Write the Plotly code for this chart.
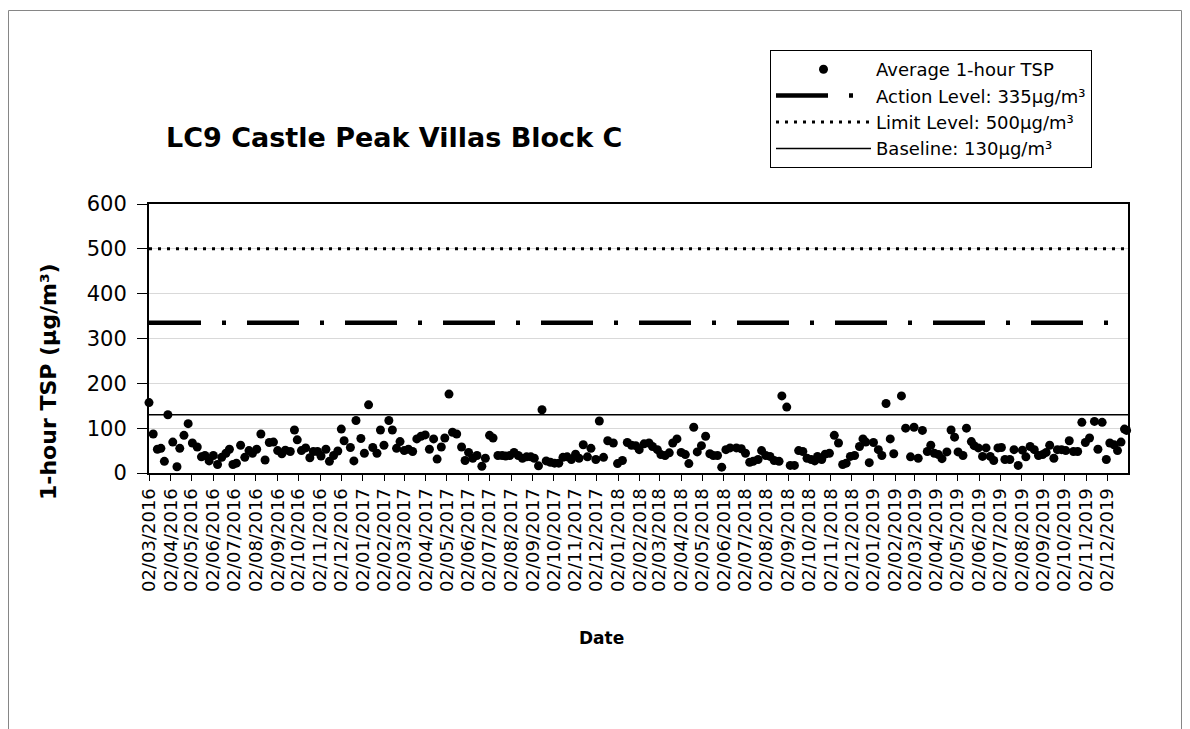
import plotly.graph_objects as go

# ---------------- data ----------------
sample_dates = [
    "2016-03-02", "2016-03-08", "2016-03-14", "2016-03-19", "2016-03-24", "2016-03-29",
    "2016-04-05", "2016-04-11", "2016-04-15", "2016-04-21", "2016-04-27",
    "2016-05-03", "2016-05-10", "2016-05-16", "2016-05-21", "2016-05-27",
    "2016-06-02", "2016-06-08", "2016-06-14", "2016-06-20", "2016-06-25", "2016-06-30",
    "2016-07-05", "2016-07-11", "2016-07-17", "2016-07-23", "2016-07-28",
    "2016-08-03", "2016-08-09", "2016-08-15", "2016-08-21", "2016-08-27",
    "2016-09-02", "2016-09-08", "2016-09-13", "2016-09-20", "2016-09-26", "2016-09-30",
    "2016-10-06", "2016-10-12", "2016-10-18", "2016-10-23", "2016-10-29",
    "2016-11-03", "2016-11-10", "2016-11-15", "2016-11-21", "2016-11-27",
    "2016-12-02", "2016-12-06", "2016-12-15", "2016-12-20", "2016-12-23", "2016-12-30",
    "2017-01-04", "2017-01-10", "2017-01-16", "2017-01-22", "2017-01-27",
    "2017-02-01", "2017-02-08", "2017-02-13", "2017-02-19", "2017-02-24",
    "2017-03-02", "2017-03-08", "2017-03-14", "2017-03-20", "2017-03-26",
    "2017-04-01", "2017-04-07", "2017-04-13", "2017-04-18", "2017-04-24", "2017-04-29",
    "2017-05-05", "2017-05-10", "2017-05-16", "2017-05-23", "2017-05-28",
    "2017-06-02", "2017-06-08", "2017-06-14", "2017-06-21", "2017-06-26",
    "2017-07-02", "2017-07-07", "2017-07-14", "2017-07-20", "2017-07-25", "2017-07-31",
    "2017-08-06", "2017-08-12", "2017-08-18", "2017-08-24", "2017-08-30",
    "2017-09-04", "2017-09-10", "2017-09-15", "2017-09-21", "2017-09-27",
    "2017-10-03", "2017-10-09", "2017-10-15", "2017-10-21", "2017-10-27",
    "2017-11-02", "2017-11-07", "2017-11-13", "2017-11-19", "2017-11-24",
    "2017-12-01", "2017-12-06", "2017-12-12", "2017-12-18", "2017-12-26",
    "2018-01-01", "2018-01-08", "2018-01-15", "2018-01-21", "2018-01-27",
    "2018-02-01", "2018-02-08", "2018-02-15", "2018-02-20", "2018-02-27",
    "2018-03-04", "2018-03-10", "2018-03-16", "2018-03-21", "2018-03-27",
    "2018-04-02", "2018-04-08", "2018-04-13", "2018-04-20", "2018-04-25",
    "2018-05-01", "2018-05-07", "2018-05-13", "2018-05-18", "2018-05-24", "2018-05-30",
    "2018-06-05", "2018-06-11", "2018-06-20", "2018-06-27",
    "2018-07-03", "2018-07-09", "2018-07-14", "2018-07-21", "2018-07-26",
    "2018-08-01", "2018-08-07", "2018-08-13", "2018-08-20", "2018-08-24", "2018-08-31",
    "2018-09-05", "2018-09-11", "2018-09-17", "2018-09-23", "2018-09-29",
    "2018-10-05", "2018-10-10", "2018-10-14", "2018-10-20", "2018-10-25", "2018-10-31",
    "2018-11-07", "2018-11-13", "2018-11-19", "2018-11-24", "2018-11-30",
    "2018-12-06", "2018-12-13", "2018-12-18", "2018-12-22", "2018-12-27",
    "2019-01-02", "2019-01-09", "2019-01-14", "2019-01-20", "2019-01-26", "2019-01-31",
    "2019-02-11", "2019-02-17", "2019-02-24",
    "2019-03-01", "2019-03-07", "2019-03-13", "2019-03-20", "2019-03-25", "2019-03-30",
    "2019-04-05", "2019-04-10", "2019-04-17", "2019-04-23", "2019-04-28",
    "2019-05-03", "2019-05-10", "2019-05-15", "2019-05-22", "2019-05-26",
    "2019-06-01", "2019-06-07", "2019-06-12", "2019-06-18", "2019-06-23", "2019-06-29",
    "2019-07-04", "2019-07-09", "2019-07-16", "2019-07-22", "2019-07-28",
    "2019-08-03", "2019-08-08", "2019-08-14", "2019-08-20", "2019-08-26",
    "2019-09-01", "2019-09-06", "2019-09-11", "2019-09-17", "2019-09-22", "2019-09-28",
    "2019-10-04", "2019-10-09", "2019-10-15", "2019-10-21", "2019-10-27",
    "2019-11-01", "2019-11-07", "2019-11-14", "2019-11-19", "2019-11-25",
    "2019-12-01", "2019-12-06", "2019-12-12", "2019-12-17", "2019-12-22", "2019-12-27",
    "2019-12-30",
]

tsp_values = [
    157, 87, 53, 55, 26, 130,
    69, 14, 55, 84, 110,
    67, 58, 36, 39, 27,
    39, 19, 35, 44, 53, 19,
    22, 62, 35, 50, 44,
    53, 87, 29, 68, 69,
    50, 43, 51, 48, 96, 74,
    50, 56, 34, 48, 48,
    38, 53, 26, 39, 49,
    98, 72, 57, 27, 117, 77,
    44, 152, 57, 44, 96,
    62, 117, 96, 55, 70,
    50, 53, 48, 76, 82,
    85, 53, 76, 31, 58, 78,
    176, 91, 87, 58, 28,
    46, 33, 39, 15, 33,
    84, 78, 39, 39, 38, 39,
    46, 39, 33, 36, 36,
    33, 16, 141, 27, 24,
    22, 22, 35, 36, 30,
    42, 33, 63, 36, 55,
    30, 116, 35, 72, 67,
    21, 28, 68, 62, 61,
    52, 65, 67, 59, 52,
    41, 39, 45, 67, 76,
    46, 41, 21, 102, 47,
    61, 82, 43, 39, 39, 13,
    52, 56, 56, 54,
    44, 24, 26, 30, 50,
    39, 37, 28, 26, 172, 147,
    17, 17, 50, 48, 33,
    30, 27, 37, 30, 42, 44,
    84, 67, 19, 22, 37,
    39, 59, 76, 69, 23,
    68, 52, 39, 155, 76, 43,
    172, 100, 36,
    102, 33, 95, 48, 62, 44,
    41, 32, 47, 96, 80,
    47, 39, 100, 70, 61,
    56, 37, 56, 37, 28, 56,
    57, 30, 30, 52, 17,
    51, 36, 59, 52, 39,
    41, 46, 62, 33, 52, 52,
    50, 72, 48, 48, 113,
    68, 78, 115, 53, 113,
    30, 67, 63, 50, 69, 98,
    95,
]

tick_dates = [
    "2016-03-02", "2016-04-02", "2016-05-02", "2016-06-02", "2016-07-02", "2016-08-02",
    "2016-09-02", "2016-10-02", "2016-11-02", "2016-12-02", "2017-01-02", "2017-02-02",
    "2017-03-02", "2017-04-02", "2017-05-02", "2017-06-02", "2017-07-02", "2017-08-02",
    "2017-09-02", "2017-10-02", "2017-11-02", "2017-12-02", "2018-01-02", "2018-02-02",
    "2018-03-02", "2018-04-02", "2018-05-02", "2018-06-02", "2018-07-02", "2018-08-02",
    "2018-09-02", "2018-10-02", "2018-11-02", "2018-12-02", "2019-01-02", "2019-02-02",
    "2019-03-02", "2019-04-02", "2019-05-02", "2019-06-02", "2019-07-02", "2019-08-02",
    "2019-09-02", "2019-10-02", "2019-11-02", "2019-12-02",
]
tick_labels = [d[8:10] + "/" + d[5:7] + "/" + d[0:4] for d in tick_dates]

x_range = ["2016-03-02", "2020-01-01"]
action_level = 335
limit_level = 500
baseline = 130
y_ticks = [0, 100, 200, 300, 400, 500, 600]

FONT = "DejaVu Sans, Liberation Sans, Arial, sans-serif"

# ---------------- figure ----------------
fig = go.Figure()

fig.add_trace(go.Scatter(
    x=sample_dates, y=tsp_values, mode="markers",
    name="Average 1-hour TSP",
    marker=dict(color="black", size=9, symbol="circle"),
    cliponaxis=False,
))
fig.add_trace(go.Scatter(
    x=x_range, y=[action_level, action_level], mode="lines",
    name="Action Level: 335µg/m³",
    line=dict(color="black", width=4.5, dash="52px,21px,4px,21px"),
))
fig.add_trace(go.Scatter(
    x=x_range, y=[limit_level, limit_level], mode="lines",
    name="Limit Level: 500µg/m³",
    line=dict(color="black", width=3, dash="3px,6px"),
))
fig.add_trace(go.Scatter(
    x=x_range, y=[baseline, baseline], mode="lines",
    name="Baseline: 130µg/m³",
    line=dict(color="black", width=1.5),
))

# page coordinates of the plot area (the page body has an 8px margin)
OFF = 8
PL, PR, PT, PB = 149, 1128, 204, 473
W, H = 1190, 729
L = PL - OFF
T = PT - OFF
R = W - L - (PR - PL)
B = H - T - (PB - PT)
pw = PR - PL
ph = PB - PT


def px_x(x):
    return (x - PL) / pw


def px_y(y):
    return (PB - y) / ph


fig.update_layout(
    width=W, height=H,
    margin=dict(l=L, r=R, t=T, b=B, pad=0),
    paper_bgcolor="white", plot_bgcolor="white",
    font=dict(family=FONT, color="black", size=20),
    showlegend=True,
    legend=dict(
        x=px_x(770), y=px_y(50), xanchor="left", yanchor="top",
        bordercolor="black", borderwidth=1, bgcolor="white",
        font=dict(family=FONT, size=18, color="black"),
        itemwidth=95, tracegroupgap=0,
    ),
    xaxis=dict(
        type="date", range=x_range,
        tickmode="array", tickvals=tick_dates, ticktext=tick_labels,
        tickangle=-90, tickfont=dict(family=FONT, size=18),
        ticks="outside", ticklen=6, tickcolor="black", tickwidth=1,
        showgrid=False, zeroline=False,
        showline=True, linecolor="black", linewidth=2, mirror=True,
    ),
    yaxis=dict(
        range=[0, 600], tickmode="array", tickvals=y_ticks,
        tickfont=dict(family=FONT, size=21),
        ticks="outside", ticklen=10, tickcolor="black", tickwidth=1,
        ticklabelstandoff=6,
        showgrid=True, gridcolor="#d9d9d9", gridwidth=1,
        zeroline=False,
        showline=True, linecolor="black", linewidth=2, mirror=True,
    ),
    annotations=[
        dict(text="<b>LC9 Castle Peak Villas Block C</b>", xref="paper", yref="paper",
             x=px_x(164), y=px_y(137), xanchor="left", yanchor="middle",
             showarrow=False, font=dict(family=FONT, size=27, color="black")),
        dict(text="<b>1-hour TSP (µg/m³)</b>", xref="paper", yref="paper",
             x=px_x(48), y=px_y(382), xanchor="center", yanchor="middle",
             textangle=-90, showarrow=False,
             font=dict(family=FONT, size=22, color="black")),
        dict(text="<b>Date</b>", xref="paper", yref="paper",
             x=px_x(601), y=px_y(638), xanchor="center", yanchor="middle",
             showarrow=False, font=dict(family=FONT, size=17, color="black")),
    ],
    shapes=[
        dict(type="rect", xref="paper", yref="paper",
             x0=px_x(8.5), x1=px_x(1181.5), y0=px_y(760), y1=px_y(10.5),
             line=dict(color="#868686", width=1), fillcolor="rgba(0,0,0,0)",
             layer="below"),
    ],
)

fig.write_html("out.html")
